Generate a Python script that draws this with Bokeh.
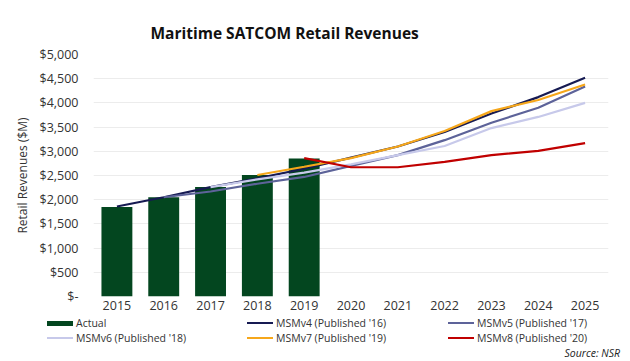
from bokeh.plotting import figure
from bokeh.models import FixedTicker, FactorRange, Range1d, Div
from bokeh.layouts import column
from bokeh.embed import file_html
from bokeh.resources import INLINE

years = [str(y) for y in range(2015, 2026)]
actual_years = years[:5]
actual = [1850, 2050, 2260, 2510, 2850]
msmv4_years = years
msmv4 = [1860, 2050, 2260, 2440, 2640, 2870, 3100, 3400, 3780, 4120, 4520]
msmv5_years = years[1:]
msmv5 = [2050, 2170, 2330, 2470, 2700, 2920, 3230, 3590, 3900, 4340]
msmv6_years = years[2:]
msmv6 = [2260, 2420, 2560, 2730, 2920, 3110, 3480, 3710, 4000]
msmv7_years = years[3:]
msmv7 = [2510, 2680, 2860, 3100, 3420, 3830, 4060, 4380]
msmv8_years = years[4:]
msmv8 = [2860, 2670, 2670, 2780, 2920, 3010, 3170]
y_ticks = list(range(0, 5001, 500))
y_tick_labels = ["$-"] + [f"${v:,}" for v in y_ticks[1:]]
series_labels = ["Actual", "MSMv4 (Published '16)", "MSMv5 (Published '17)",
                 "MSMv6 (Published '18)", "MSMv7 (Published '19)", "MSMv8 (Published '20)"]
series_colors = ["#03461f", "#161a52", "#5d6399", "#c7c9ea", "#f6a71b", "#c00000"]

FONT = "Open Sans"

p = figure(width=630, height=316, x_range=FactorRange(*years, range_padding=0),
           y_range=Range1d(0, 5000), output_backend="svg", toolbar_location=None,
           min_border_left=93, min_border_right=22, min_border_top=54, min_border_bottom=20)
p.outline_line_color = None
p.background_fill_color = "white"

p.title.text = "Maritime SATCOM Retail Revenues"
p.title.align = "left"
p.title.offset = 57
p.title.standoff = 22
p.title.text_font = FONT
p.title.text_font_style = "bold"
p.title.text_font_size = "15.5px"
p.title.text_color = "#111111"

p.xgrid.grid_line_color = None
p.ygrid.grid_line_color = "#ececec"
p.ygrid.grid_line_width = 1

p.yaxis.ticker = FixedTicker(ticks=y_ticks)
p.yaxis.major_label_overrides = {t: l for t, l in zip(y_ticks, y_tick_labels)}
for ax in (p.xaxis[0], p.yaxis[0]):
    ax.axis_line_color = None
    ax.major_tick_line_color = None
    ax.minor_tick_line_color = None
    ax.major_tick_out = 0
    ax.major_tick_in = 0
    ax.major_label_text_font = FONT
    ax.major_label_text_font_size = "12.5px"
    ax.major_label_text_color = "#333333"
p.yaxis.major_label_standoff = 15
p.xaxis.major_label_standoff = 4
p.yaxis.axis_label = "Retail Revenues ($M)"
p.yaxis.axis_label_text_font = FONT
p.yaxis.axis_label_text_font_size = "12px"
p.yaxis.axis_label_text_font_style = "normal"
p.yaxis.axis_label_text_color = "#333333"
p.yaxis.axis_label_standoff = 6

lw = 2.2
p.vbar(x=actual_years, top=actual, width=0.66, fill_color=series_colors[0], line_color=None)
for xs, ys, c in [(msmv4_years, msmv4, series_colors[1]), (msmv5_years, msmv5, series_colors[2]),
                  (msmv6_years, msmv6, series_colors[3]), (msmv7_years, msmv7, series_colors[4]),
                  (msmv8_years, msmv8, series_colors[5])]:
    p.line(x=xs, y=ys, line_color=c, line_width=lw)

# legend strip (HTML) below the chart
legend_left = [47, 247, 448, 47, 247, 448]
legend_top = [0, 0, 0, 15, 15, 15]
parts = []
for i, (lab, col, x, y) in enumerate(zip(series_labels, series_colors, legend_left, legend_top)):
    sw_h = 5 if i == 0 else 2
    parts.append(
        f'<div style="position:absolute;left:{x}px;top:{y}px;height:14px;line-height:14px;'
        f'white-space:nowrap;">'
        f'<span style="display:inline-block;width:26px;height:{sw_h}px;background:{col};'
        f'vertical-align:middle;margin-right:3px;position:relative;top:-1px;"></span>{lab}</div>'
    )
parts.append('<div style="position:absolute;right:10px;top:30px;height:14px;line-height:14px;'
             'font-style:italic;font-size:10.5px;color:#222222;white-space:nowrap;">Source: NSR</div>')
html = (f'<div style="position:relative;width:630px;height:45px;font-family:\'{FONT}\';'
        f'font-size:10.5px;color:#333333;margin:0;padding:0;">' + "".join(parts) + '</div>')
legend_div = Div(text=html, width=630, height=45, margin=0)

open("out.html", "w").write(file_html(column(p, legend_div, spacing=0), INLINE))
